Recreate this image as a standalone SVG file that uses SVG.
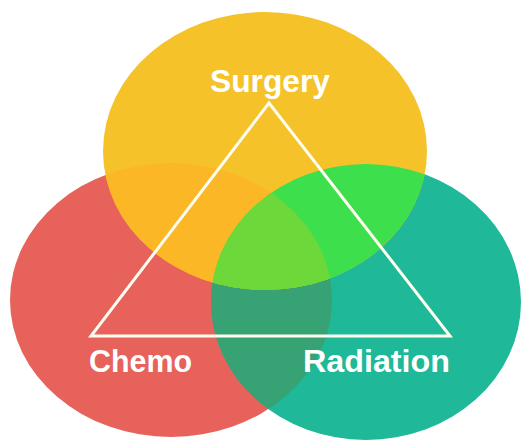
<svg xmlns="http://www.w3.org/2000/svg" width="524" height="441" viewBox="0 0 524 441">
<defs>
<style>
.lbl{font-family:"Liberation Sans Narrow","Liberation Sans",Arial,sans-serif;font-weight:bold;font-size:31.5px;fill:#FFFFFF;}
.tri{fill:none;stroke:#FFFDF0;stroke-width:3;stroke-linejoin:miter;}
</style>
<clipPath id="cRed"><ellipse cx="171" cy="300" rx="161" ry="137"/></clipPath>
<clipPath id="cYel"><ellipse cx="265" cy="151" rx="162" ry="139"/></clipPath>
</defs>
<rect width="524" height="441" fill="#FFFFFF"/>
<g id="chemo">
<ellipse cx="171" cy="300" rx="161" ry="137" fill="#E6625A"/>
</g>
<g id="radiation">
<ellipse cx="366" cy="302" rx="155" ry="138" fill="#1FB898"/>
<ellipse cx="366" cy="302" rx="155" ry="138" fill="#37A274" clip-path="url(#cRed)"/>
</g>
<g id="surgery">
<ellipse cx="265" cy="151" rx="162" ry="139" fill="#F5C22A"/>
<g clip-path="url(#cYel)">
<ellipse cx="171" cy="300" rx="161" ry="137" fill="#FBB726"/>
<ellipse cx="366" cy="302" rx="155" ry="138" fill="#3DDF4C"/>
<ellipse cx="366" cy="302" rx="155" ry="138" fill="#6CD83A" clip-path="url(#cRed)"/>
</g>
</g>
<g id="connectors">
<polygon class="tri" points="269,103 91,336 450,336"/>
</g>
<g id="labels">
<text class="lbl" x="210" y="92" textLength="120" lengthAdjust="spacingAndGlyphs">Surgery</text>
<text class="lbl" x="89" y="372" textLength="103" lengthAdjust="spacingAndGlyphs">Chemo</text>
<text class="lbl" x="303" y="372" textLength="147" lengthAdjust="spacingAndGlyphs">Radiation</text>
</g>
</svg>
